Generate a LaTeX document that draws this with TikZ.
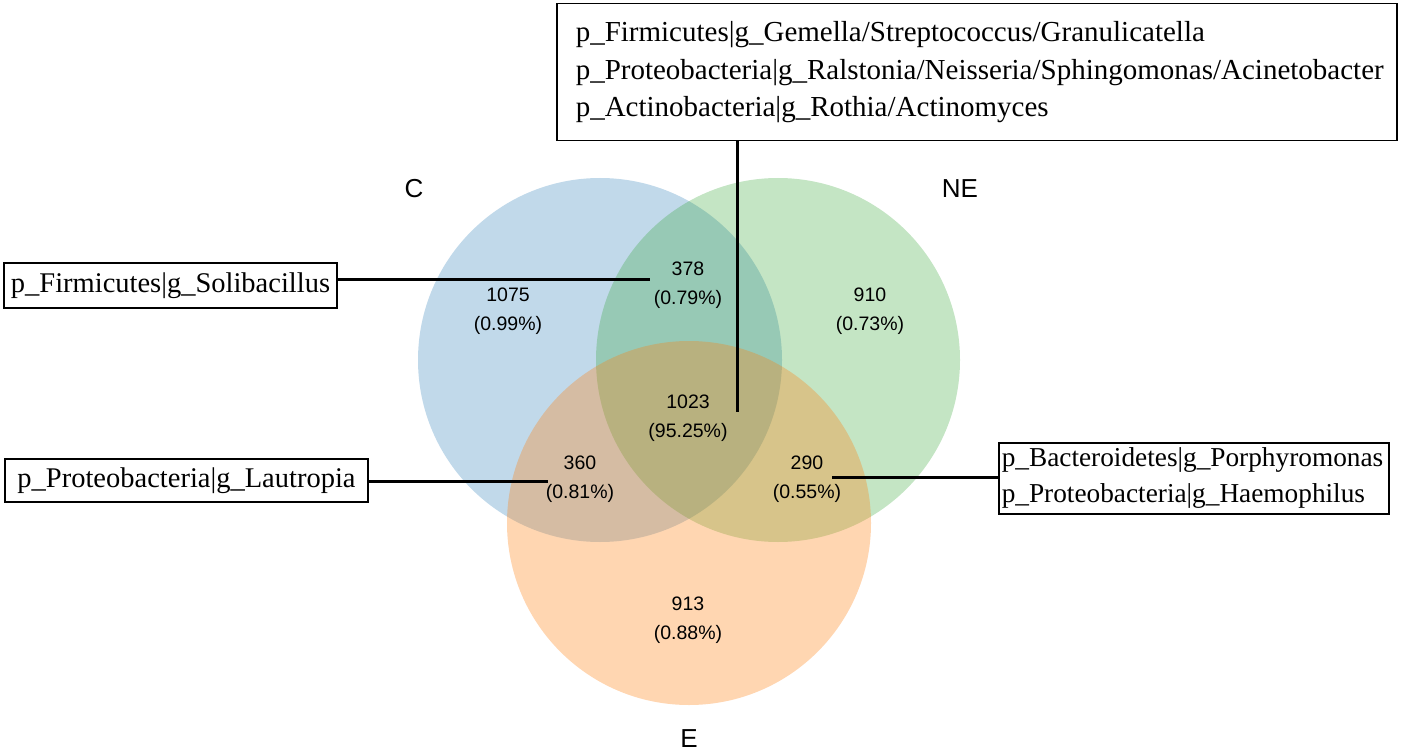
\documentclass[tikz,border=0pt]{standalone}
\usepackage{fontspec}
\setmainfont{Liberation Serif}
\newfontfamily\arialf{Liberation Sans}
\definecolor{cblue}{RGB}{31,119,180}
\definecolor{cgreen}{RGB}{44,160,44}
\definecolor{corange}{RGB}{255,127,14}
\begin{document}
\begin{tikzpicture}[x=1pt,y=-1pt,
  setc/.style={circle, minimum size=364pt, inner sep=0pt, fill=#1, draw=none},
  num/.style={font=\arialf\fontsize{19.5}{29}\selectfont, align=center, inner sep=0pt},
  setlab/.style={font=\arialf\fontsize{26}{30}\selectfont, inner sep=0pt},
  taxbox/.style={draw, line width=1.5pt, font=\fontsize{28.5}{37}\selectfont, align=left, fill=white},
  conn/.style={line width=3pt}]
\useasboundingbox (0,0) rectangle (1418,754);
% sets
\node[setc=cblue, fill opacity=.28] (C) at (600,360) {};
\node[setc=cgreen, fill opacity=.28] (NE) at (778,360) {};
\node[setc=corange, fill opacity=.32] (E) at (689,523) {};
% set labels
\node[setlab] (lC) at (414,189) {C};
\node[setlab] (lNE) at (960,189) {NE};
\node[setlab] (lE) at (689,739) {E};
% region counts
\node[num] (r1075) at (508,311) {1075\\(0.99\%)};
\node[num] (r378) at (688,285) {378\\(0.79\%)};
\node[num] (r910) at (870,311) {910\\(0.73\%)};
\node[num] (r1023) at (688,418) {1023\\(95.25\%)};
\node[num] (r360) at (580,479) {360\\(0.81\%)};
\node[num] (r290) at (807,479) {290\\(0.55\%)};
\node[num] (r913) at (688,620) {913\\(0.88\%)};
% boxes
\node[taxbox, font=\fontsize{29}{37.5}\selectfont, anchor=north west, minimum width=840pt, minimum height=137pt, inner xsep=19pt, text width=802pt] (top) at (556,3)
  {p\_Firmicutes|g\_Gemella/Streptococcus/Granulicatella\\
   p\_Proteobacteria|g\_Ralstonia/Neisseria/Sphingomonas/Acinetobacter\\
   p\_Actinobacteria|g\_Rothia/Actinomyces};
\node[taxbox, minimum width=333pt, minimum height=45pt, inner sep=0pt, align=center] (sol) at (170.5,285.5)
  {p\_Firmicutes|g\_Solibacillus};
\node[taxbox, minimum width=363pt, minimum height=43pt, inner sep=0pt, align=center] (lau) at (186.5,480.5)
  {p\_Proteobacteria|g\_Lautropia};
\node[taxbox, font=\fontsize{27.3}{36}\selectfont, anchor=north west, minimum width=390pt, minimum height=71pt, inner xsep=3pt, inner ysep=0pt, text width=384pt] (bac) at (998,442)
  {p\_Bacteroidetes|g\_Porphyromonas\\
   p\_Proteobacteria|g\_Haemophilus};
% connectors
\coordinate (p378) at (650,279);
\coordinate (p1023) at (737,412);
\coordinate (p360) at (548,481.5);
\coordinate (p290) at (832,477);
\draw[conn] (sol.east |- p378) -- (p378);
\draw[conn] (top.south -| p1023) -- (p1023);
\draw[conn] (lau.east |- p360) -- (p360);
\draw[conn] (bac.west |- p290) -- (p290);
\end{tikzpicture}
\end{document}
